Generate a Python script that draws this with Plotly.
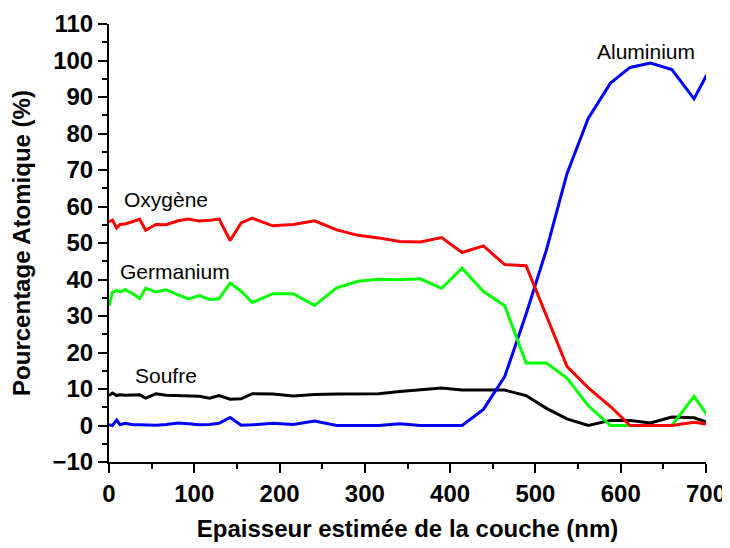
import plotly.graph_objects as go

thickness_nm = [0, 4, 9, 13, 19, 28, 36, 43, 55, 67, 81, 93, 106, 118, 129, 142, 155, 168,
                192, 216, 241, 267, 292, 316, 341, 365, 390, 414, 439, 464, 489, 513, 537,
                562, 588, 611, 635, 660, 686, 701]

oxygene = [55.8, 56.3, 54.1, 55.1, 55.2, 55.8, 56.5, 53.5, 55.1, 55.0, 56.1, 56.6, 56.0, 56.2,
           56.6, 50.7, 55.5, 56.8, 54.7, 55.1, 56.1, 53.6, 52.1, 51.4, 50.4, 50.3, 51.5, 47.4,
           49.2, 44.1, 43.8, 30.0, 16.2, 10.3, 5.2, 0.0, 0.0, 0.0, 0.9, 0.4]

germanium = [32.8, 36.5, 37.0, 36.6, 37.2, 36.1, 34.8, 37.6, 36.6, 37.2, 35.8, 34.7, 35.6, 34.5,
             34.7, 39.0, 36.8, 33.7, 36.1, 36.1, 32.9, 37.7, 39.5, 40.1, 39.9, 40.2, 37.6, 43.1,
             36.7, 32.8, 17.1, 17.1, 13.0, 5.4, 0.0, 0.0, 0.0, 0.0, 8.0, 3.0]

soufre = [8.2, 8.9, 8.2, 8.4, 8.3, 8.3, 8.4, 7.5, 8.7, 8.3, 8.2, 8.2, 8.0, 7.5, 8.2, 7.2, 7.3,
          8.7, 8.6, 8.1, 8.5, 8.6, 8.7, 8.7, 9.3, 9.7, 10.3, 9.7, 9.6, 9.7, 8.2, 4.7, 1.8, 0.0,
          1.4, 1.4, 0.7, 2.3, 2.1, 0.9]

aluminium = [0.2, 0.0, 1.5, 0.2, 0.6, 0.2, 0.2, 0.1, 0.1, 0.3, 0.7, 0.5, 0.2, 0.3, 0.6, 2.2,
             0.1, 0.2, 0.6, 0.3, 1.2, 0.0, 0.0, 0.0, 0.5, 0.0, 0.0, 0.0, 4.4, 13.4, 30.5, 48.2,
             69.0, 84.2, 93.8, 98.1, 99.3, 97.5, 89.5, 96.1]

labels = ["Oxygène", "Germanium", "Soufre", "Aluminium"]
label_x = [15, 11, 28, 570]
label_y = [62, 42.2, 13.6, 102.4]

FONT = "Liberation Sans, Arial, sans-serif"

fig = go.Figure()
for name, vals, col in [("Soufre", soufre, "#000000"),
                        ("Aluminium", aluminium, "#0000FF"),
                        ("Germanium", germanium, "#00FF00"),
                        ("Oxygène", oxygene, "#FF0000")]:
    fig.add_trace(go.Scatter(x=thickness_nm, y=vals, mode="lines", name=name,
                             line=dict(color=col, width=3), showlegend=False))

for t, x, y in zip(labels, label_x, label_y):
    fig.add_annotation(x=x, y=y, text=t, showarrow=False, xanchor="left", yanchor="middle",
                       font=dict(family=FONT, size=21, color="black"))

axis_common = dict(showline=True, linecolor="black", linewidth=2, ticks="outside",
                   ticklen=9, tickwidth=1.5, tickcolor="black", showgrid=False, zeroline=False,
                   automargin=False,
                   tickfont=dict(family=FONT, size=24, color="black", weight="bold"))

# the page body adds an 8px offset; margins compensate so the plot area matches the window
fig.update_layout(
    width=722, height=540,
    margin=dict(l=101, r=24, t=16, b=86),
    paper_bgcolor="white", plot_bgcolor="white",
    xaxis=dict(range=[0, 700], tickvals=[0, 100, 200, 300, 400, 500, 600, 700],
               minor=dict(ticks="outside", ticklen=5, tickwidth=1.5, tickcolor="black", dtick=50),
               title=dict(text="Epaisseur estimée de la couche (nm)", standoff=14,
                          font=dict(family=FONT, size=24, color="black", weight="bold")),
               **axis_common),
    yaxis=dict(range=[-10, 110], tickvals=list(range(-10, 111, 10)),
               minor=dict(ticks="outside", ticklen=5, tickwidth=1.5, tickcolor="black", dtick=5),
               title=dict(text="Pourcentage Atomique (%)", standoff=16,
                          font=dict(family=FONT, size=24, color="black", weight="bold")),
               **axis_common),
)

fig.write_html("out.html")
